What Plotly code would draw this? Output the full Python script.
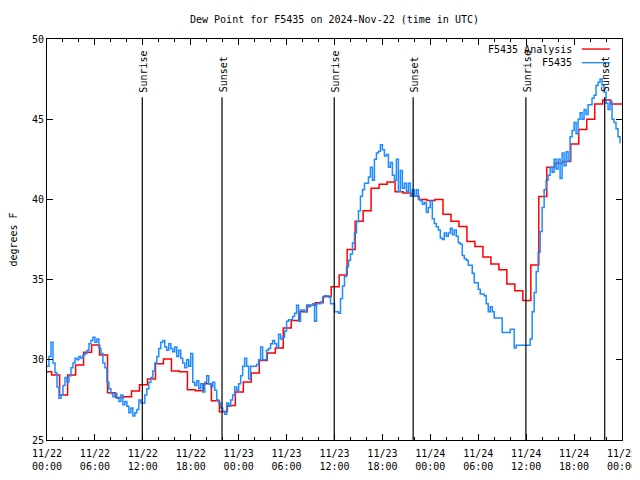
import pandas as pd
import plotly.graph_objects as go

# ---- data ----
analysis_start = "2024-11-21 23:35"
analysis_values = [
    29.25, 29.05, 27.8, 29.05, 29.68, 30.47, 30.93, 30.3, 27.95, 27.65, 27.7, 28.05,
    28.45, 28.8, 29.75, 30.05, 29.3, 29.25, 28.13, 28.07, 28.5, 27.45, 26.76, 27.15,
    28.0, 28.62, 29.18, 29.95, 30.43, 30.74, 31.99, 32.45, 33.0, 33.4, 33.56, 33.94,
    34.56, 35.28, 36.88, 38.63, 39.3, 40.7, 40.95, 41.08, 40.47, 40.4, 40.2, 40.0,
    39.93, 40.0, 39.08, 38.63, 38.31, 37.38, 37.07, 36.41, 35.97, 35.62, 34.73, 34.31,
    33.69, 35.91, 40.18, 42.0, 42.26, 42.36, 43.45, 44.36, 45.0, 45.94, 46.2, 45.94,
    45.94, 45.94,
]

obs_start = "2024-11-22 00:00"
obs_values = [
    29.6, 30.2, 31.1, 29.8,  29.2, 28.3, 27.6, 27.8,  28.4, 28.9, 28.6, 29.0,
    29.5, 29.8, 30.1, 30.0,  30.2, 30.1, 30.3, 30.4,  30.6, 31.0, 31.2, 31.4,
    31.1, 31.3, 30.7, 30.4,  29.8, 29.5, 28.6, 28.2,  27.9, 27.7, 27.9, 27.6,
    27.4, 27.8, 27.2, 27.4,  27.1, 26.7, 27.0, 26.5,  26.7, 26.9, 27.5, 27.3,
    27.3, 27.8, 28.2, 28.6,  28.9, 29.3, 29.8, 30.2,  30.7, 31.1, 31.2, 30.8,
    30.6, 31.0, 30.7, 30.5,  30.8, 30.2, 30.6, 30.1,  29.8, 29.5, 30.0, 29.6,
    30.4, 28.6, 28.4, 28.7,  28.2, 28.5, 28.0, 28.6,  29.0, 28.5, 28.3, 28.6,
    28.1, 27.5, 27.3, 27.0,  26.8, 26.6, 27.3, 27.1,  27.5, 27.8, 28.3, 28.1,
    28.5, 29.0, 29.6, 30.1,  29.6, 28.8, 29.6, 29.6,  29.6, 29.7, 30.0, 30.8,
    30.0, 30.0, 30.6, 30.7,  31.0, 31.2, 31.0, 30.8,  31.6, 31.3, 31.4, 31.8,
    32.4, 32.5, 32.5, 32.7,  32.9, 33.4, 32.4, 33.1,  33.1, 33.0, 33.4, 33.3,
    33.4, 33.5, 32.4, 33.5,  33.5, 33.6, 33.9, 34.0,  34.0, 33.9, 33.5, 33.5,
    33.0, 33.0, 32.9, 33.8,  34.6, 35.2, 35.8, 36.2,  36.6, 37.3, 37.9, 38.6,
    39.3, 40.2, 40.6, 41.0,  41.0, 41.4, 42.0, 41.2,  42.5, 42.9, 43.0, 43.4,
    43.1, 42.7, 42.8, 42.0,  42.3, 41.5, 41.2, 42.5,  40.5, 41.8, 40.7, 41.0,
    40.5, 41.0, 40.2, 40.6,  40.2, 40.6, 40.0, 39.9,  39.7, 39.8, 39.2, 39.5,
    39.9, 38.8, 38.5, 38.3,  38.1, 37.6, 37.5, 37.9,  37.7, 37.9, 38.2, 37.8,
    38.1, 37.7, 37.3, 37.2,  36.5, 36.3, 36.2, 35.9,  35.9, 35.4, 34.8, 34.8,
    34.4, 34.1, 34.1, 34.0,  33.5, 33.0, 33.3, 33.0,  32.6, 32.6, 32.6, 32.6,
    31.7, 31.7, 31.7, 31.7,  31.9, 31.9, 30.74, 30.9,  30.9, 30.9, 30.9, 30.9,
    30.9, 30.9, 31.3, 33.0,  34.2, 35.5, 36.7, 38.0,  39.5, 40.6, 41.2, 41.5,
    42.0, 41.7, 42.5, 41.9,  42.5, 41.3, 42.9, 42.1,  42.97, 42.4, 43.9, 44.3,
    44.8, 44.1, 45.0, 45.4,  45.0, 45.6, 45.3, 45.9,  45.9, 46.3, 46.5, 47.1,
    47.3, 47.5, 47.1, 46.7,  46.0, 45.6, 46.1, 45.0,  44.8, 44.4, 43.9, 43.5,
]

sun_times = ["2024-11-22 11:56", "2024-11-22 21:55", "2024-11-23 11:58",
             "2024-11-23 21:51", "2024-11-24 11:58", "2024-11-24 21:50"]
sun_labels = ["Sunrise", "Sunset", "Sunrise", "Sunset", "Sunrise", "Sunset"]

series_names = ["F5435 Analysis", "F5435"]
series_colors = ["#ff0000", "#1e8cff"]

title_text = "Dew Point for F5435 on 2024-Nov-22 (time in UTC)"
y_title = "degrees F"
x_range = ["2024-11-22 00:00", "2024-11-25 00:00"]
y_range = [25, 50]

# ---- build ----
analysis_t = pd.date_range(analysis_start, periods=len(analysis_values), freq="h")
obs_t = pd.date_range(obs_start, periods=len(obs_values), freq="15min")

FONT = "DejaVu Sans Mono"
FS = 10

fig = go.Figure()
fig.add_trace(go.Scatter(x=analysis_t, y=analysis_values, mode="lines",
                         line=dict(color=series_colors[0], width=1.5, shape="hv"),
                         name=series_names[0], showlegend=False))
fig.add_trace(go.Scatter(x=obs_t, y=obs_values, mode="lines",
                         line=dict(color=series_colors[1], width=1.5, shape="hv"),
                         name=series_names[1], showlegend=False))

for t, lab in zip(sun_times, sun_labels):
    fig.add_shape(type="line", xref="x", yref="paper", x0=t, x1=t, y0=0, y1=0.855,
                  line=dict(color="black", width=1.2))
    fig.add_annotation(x=t, xref="x", y=0.862, yref="paper", text=lab, textangle=-90,
                       showarrow=False, xanchor="center", yanchor="bottom", xshift=1,
                       font=dict(family=FONT, size=FS, color="black"))

# gnuplot-style key (text then line sample)
key_y = [0.975, 0.941]
for name, col, ky in zip(series_names, series_colors, key_y):
    fig.add_annotation(x=0.917, xref="paper", y=ky, yref="paper", text=name,
                       showarrow=False, xanchor="right", yanchor="middle",
                       font=dict(family=FONT, size=FS, color="black"))
    fig.add_shape(type="line", xref="paper", yref="paper", x0=0.930, x1=0.979,
                  y0=ky, y1=ky, line=dict(color=col, width=1.4))

# the page body adds an 8px offset; size and margins compensate for it
fig.update_layout(
    width=632, height=464,
    margin=dict(l=39, r=18, t=31, b=32, autoexpand=False),
    paper_bgcolor="white", plot_bgcolor="white",
    font=dict(family=FONT, size=FS, color="black"),
    title=dict(text=title_text, x=0.5, xref="paper", xanchor="center",
               y=1 - 11 / 464, yref="container", yanchor="middle",
               font=dict(family=FONT, size=FS, color="black")),
    showlegend=False,
)
fig.update_xaxes(range=x_range, type="date", tick0="2024-11-22 00:00",
                 dtick=6 * 3600 * 1000, tickformat="%m/%d<br>%H:%M",
                 ticks="inside", ticklen=6, tickcolor="black", ticklabelstandoff=4,
                 ticklabeloverflow="allow",
                 showline=True, linecolor="black", linewidth=1, mirror="ticks",
                 showgrid=False, zeroline=False, automargin=False,
                 minor=dict(dtick=2 * 3600 * 1000, ticks="inside", ticklen=3,
                            tickcolor="black", showgrid=False),
                 tickfont=dict(family=FONT, size=FS))
fig.update_yaxes(range=y_range, dtick=5, ticks="inside", ticklen=6, tickcolor="black",
                 showline=True, linecolor="black", linewidth=1, mirror="ticks",
                 showgrid=False, zeroline=False, automargin=False,
                 title=dict(text=y_title, standoff=16, font=dict(family=FONT, size=FS)),
                 tickfont=dict(family=FONT, size=FS))

fig.write_html("out.html")
